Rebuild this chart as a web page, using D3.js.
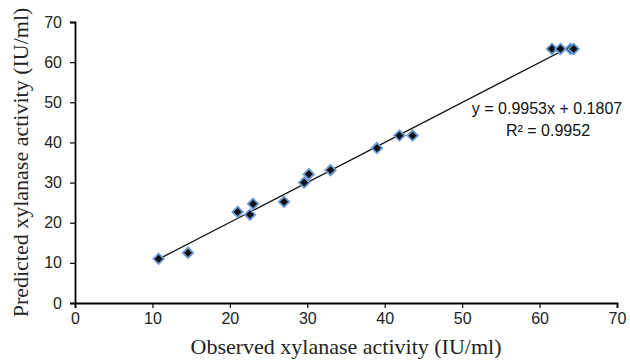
<!DOCTYPE html>
<html>
<head>
<meta charset="utf-8">
<script src="https://cdn.jsdelivr.net/npm/d3@7"></script>
<style>
  body { margin: 0; background: #fff; }
  #chart { width: 630px; height: 360px; }
</style>
</head>
<body>
<div id="chart"></div>
<script>
// Observed vs predicted xylanase activity (IU/ml)
const observed = [10.8, 14.6, 21.0, 22.6, 23.0, 27.0, 29.6, 30.2, 33.0, 39.0, 41.9, 43.6, 61.6, 62.7, 64.0, 64.4];
const predicted = [11.0, 12.5, 22.7, 22.0, 24.7, 25.2, 30.0, 32.1, 33.1, 38.6, 41.7, 41.7, 63.3, 63.3, 63.3, 63.3];
const xTicks = [0, 10, 20, 30, 40, 50, 60, 70];
const yTicks = [0, 10, 20, 30, 40, 50, 60, 70];
const slope = 0.9953;
const intercept = 0.1807;
const r2 = 0.9952;

const width = 630, height = 360;
const margin = { top: 22, right: 13, bottom: 57, left: 75 };

const svg = d3.select("#chart")
  .append("svg")
  .attr("width", width)
  .attr("height", height);

const x = d3.scaleLinear().domain([0, 70]).range([margin.left, width - margin.right]);
const y = d3.scaleLinear().domain([0, 70]).range([height - margin.bottom, margin.top]);

const tickFont = "'Liberation Sans', Arial, sans-serif";
const titleFont = "'Liberation Serif', 'Times New Roman', serif";

// Bottom axis
const gx = svg.append("g")
  .attr("transform", `translate(0,${y(0)})`)
  .call(d3.axisBottom(x).tickValues(xTicks).tickSize(5).tickSizeOuter(5).tickPadding(5));
gx.select(".domain").attr("stroke", "#000").attr("stroke-width", 1.8);
gx.selectAll(".tick line").attr("stroke", "#000").attr("stroke-width", 1.2);
gx.selectAll("text").style("font-family", tickFont).style("font-size", "16px").attr("fill", "#222");

// Left axis
const gy = svg.append("g")
  .attr("transform", `translate(${x(0)},0)`)
  .call(d3.axisLeft(y).tickValues(yTicks).tickSize(5).tickSizeOuter(5).tickPadding(8));
gy.select(".domain").attr("stroke", "#000").attr("stroke-width", 1.8);
gy.selectAll(".tick line").attr("stroke", "#000").attr("stroke-width", 1.2);
gy.selectAll("text").style("font-family", tickFont).style("font-size", "16px").attr("fill", "#222");

// Trendline from fitted equation
const xMin = d3.min(observed), xMax = d3.max(observed);
svg.append("line")
  .attr("x1", x(xMin)).attr("y1", y(slope * xMin + intercept))
  .attr("x2", x(xMax)).attr("y2", y(slope * xMax + intercept))
  .attr("stroke", "#111")
  .attr("stroke-width", 1.3);

// Diamond markers
const diamond = d3.symbol().type(d3.symbolDiamond2).size(70);
svg.selectAll("path.pt")
  .data(observed.map((d, i) => [d, predicted[i]]))
  .enter()
  .append("path")
  .attr("class", "pt")
  .attr("d", diamond)
  .attr("transform", d => `translate(${x(d[0])},${y(d[1])})`)
  .attr("fill", "#111")
  .attr("stroke", "#6a9ad8")
  .attr("stroke-width", 1.8);

// Equation labels
svg.append("text")
  .attr("x", 547).attr("y", 114)
  .attr("text-anchor", "middle")
  .style("font-family", tickFont).style("font-size", "16px")
  .attr("fill", "#111")
  .text(`y = ${slope}x + ${intercept}`);

svg.append("text")
  .attr("x", 548).attr("y", 136)
  .attr("text-anchor", "middle")
  .style("font-family", tickFont).style("font-size", "16px")
  .attr("fill", "#111")
  .text(`R² = ${r2}`);

// Axis titles
svg.append("text")
  .attr("x", (x(0) + x(70)) / 2).attr("y", 354)
  .attr("text-anchor", "middle")
  .style("font-family", titleFont)
  .style("font-size", "22px")
  .attr("fill", "#222")
  .text("Observed xylanase activity (IU/ml)");

svg.append("text")
  .attr("transform", `translate(28,${(y(0) + y(70)) / 2}) rotate(-90)`)
  .attr("text-anchor", "middle")
  .style("font-family", titleFont)
  .style("font-size", "22px")
  .attr("fill", "#222")
  .text("Predicted xylanase activity (IU/ml)");
</script>
</body>
</html>
